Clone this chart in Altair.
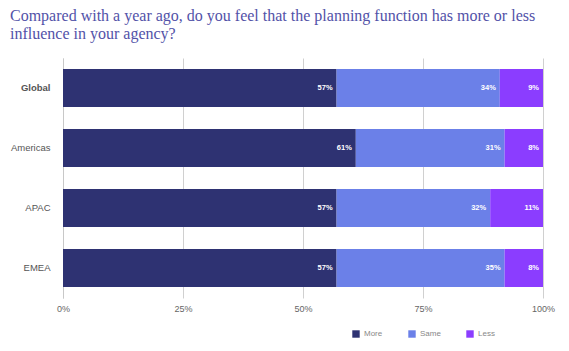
import altair as alt
import pandas as pd

regions = ["Global", "Americas", "APAC", "EMEA"]
responses = ["More", "Same", "Less"]
more = [57, 61, 57, 57]
same = [34, 31, 32, 35]
less = [9, 8, 11, 8]
colors = ["#2E3272", "#6B80E8", "#8B3DFF"]
x_ticks = [0, 25, 50, 75, 100]

rows = []
for i, r in enumerate(regions):
    for j, (resp, vals) in enumerate(zip(responses, [more, same, less])):
        rows.append({"region": r, "response": resp, "value": vals[i], "order": j})
df = pd.DataFrame(rows)

base = alt.Chart(df).transform_stack(
    stack="value", groupby=["region"], as_=["start", "end"],
    sort=[alt.SortField("order", order="ascending")]
)

y = alt.Y("region:N", sort=regions, title=None,
          scale=alt.Scale(paddingInner=0.37, paddingOuter=0.185),
          axis=alt.Axis(labelFontSize=9.5, labelColor="#555555", labelPadding=13,
                        ticks=False, domain=True, domainColor="#c8c8c8",
                        labelFont="Liberation Sans",
                        labelFontWeight={"expr": "datum.value == 'Global' ? 'bold' : 'normal'"}))

bars = base.mark_bar().encode(
    x=alt.X("start:Q", scale=alt.Scale(domain=[0, 100], nice=False), title=None,
            axis=alt.Axis(values=x_ticks, labelExpr="datum.value + '%'",
                          grid=True, gridColor="#d0d0d0", domain=False, ticks=False,
                          labelFlush=False,
                          labelFontSize=9, labelColor="#666666", labelPadding=6,
                          labelFont="Liberation Sans")),
    x2="end:Q",
    y=y,
    color=alt.Color("response:N", sort=responses,
                    scale=alt.Scale(domain=responses, range=colors),
                    legend=alt.Legend(title=None, orient="none", direction="horizontal",
                                      legendX=289, legendY=272, symbolType="square",
                                      symbolSize=55, symbolStrokeWidth=0,
                                      labelFontSize=8, labelColor="#888888",
                                      labelFont="Liberation Sans", labelOffset=4,
                                      columnPadding=25)),
    order=alt.Order("order:Q"),
)

labels = base.mark_text(align="right", dx=-4, color="white", fontWeight="bold",
                        fontSize=7.5, font="Liberation Sans").encode(
    x="end:Q",
    y=alt.Y("region:N", sort=regions),
    text=alt.Text("label:N"),
).transform_calculate(label="datum.value + '%'")

chart = (bars + labels).properties(
    width=480, height=240,
    autosize=alt.AutoSizeParams(type="none"),
    padding={"left": 63, "top": 58, "right": 26, "bottom": 53},
    title=alt.Title(
        ["Compared with a year ago, do you feel that the planning function has more or less",
         "influence in your agency?"],
        anchor="start", frame="group", dx=-53, offset=16,
        font="'Liberation Serif', 'DejaVu Serif', serif",
        fontSize=16, fontWeight="normal", color="#5252A8",
        lineHeight=18),
).configure_view(stroke=None)

chart.save("out.html", embed_options={"renderer": "svg", "actions": False})
